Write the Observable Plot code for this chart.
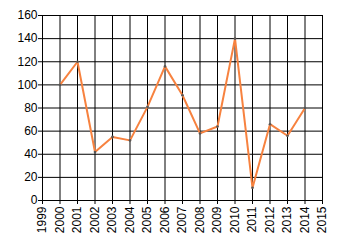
<!DOCTYPE html>
<html><head><meta charset="utf-8">
<script src="https://cdn.jsdelivr.net/npm/d3@7"></script>
<script src="https://cdn.jsdelivr.net/npm/@observablehq/plot@0.6"></script>
<style>body{margin:0;background:#fff}</style>
</head><body><div id="chart"></div>
<script>
const years = [2000,2001,2002,2003,2004,2005,2006,2007,2008,2009,2010,2011,2012,2013,2014];
const values = [100,120,42,55,52,81,116,91,58,64,140,11,66,56,80];
const xTicks = d3.range(1999, 2016);
const yTicks = [0,20,40,60,80,100,120,140,160];
const data = years.map((y,i)=>({year:y, value:values[i]}));
const chart = Plot.plot({
  width: 340, height: 245,
  marginLeft: 42, marginTop: 15, marginRight: 18, marginBottom: 45,
  style: {fontFamily: "Liberation Sans, Arial, sans-serif", fontSize: "12px", color: "#000", background: "#fff"},
  x: {domain: [1999, 2015]},
  y: {domain: [0, 160]},
  marks: [
    Plot.gridX(xTicks, {stroke: "#000", strokeOpacity: 1}),
    Plot.gridY(yTicks, {stroke: "#000", strokeOpacity: 1}),
    Plot.frame({stroke: "#000"}),
    Plot.axisX(xTicks, {tickFormat: d => String(d), tickRotate: -90, tickSize: 4, tickPadding: 2, label: null, fontSize: 12}),
    Plot.axisY(yTicks, {tickSize: 4, tickPadding: 1, label: null, fontSize: 12}),
    Plot.line(data, {x: "year", y: "value", stroke: "#F7823F", strokeWidth: 2}),
    Plot.dot(data, {x: "year", y: "value", r: 1.3, fill: "#555", stroke: "none"})
  ]
});
document.getElementById("chart").appendChild(chart);
</script></body></html>
